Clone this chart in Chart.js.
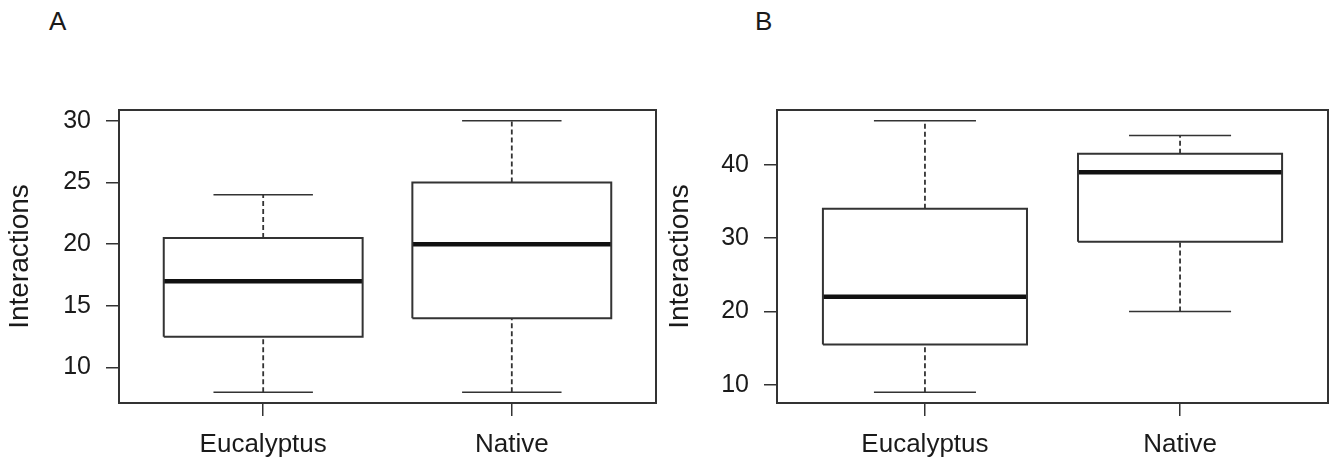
<!DOCTYPE html>
<html>
<head>
<meta charset="utf-8">
<script src="https://cdn.jsdelivr.net/npm/chart.js@4"></script>
<style>
  body { margin: 0; background: #fff; }
  .panel { position: absolute; top: 0; height: 459px; }
  .tag { position: absolute; top: 6px; font: 26px "Liberation Sans", Arial, sans-serif; color: #1a1a1a; }
</style>
</head>
<body>
<div class="tag" style="left:49px">A</div>
<div class="tag" style="left:755px">B</div>
<div class="panel" style="left:0;width:664px"><canvas id="chartA"></canvas></div>
<div class="panel" style="left:660px;width:669px"><canvas id="chartB"></canvas></div>
<script>
const categories = ['Eucalyptus', 'Native'];

// panel A
const yTicksA = [10, 15, 20, 25, 30];
const minA = [8, 8];
const q1A = [12.5, 14];
const medianA = [17, 20];
const q3A = [20.5, 25];
const maxA = [24, 30];

// panel B
const yTicksB = [10, 20, 30, 40];
const minB = [9, 20];
const q1B = [15.5, 29.5];
const medianB = [22, 39];
const q3B = [34, 41.5];
const maxB = [46, 44];

const FONT = '"Liberation Sans", Arial, sans-serif';
const INK = '#333';
const TEXT = '#1a1a1a';

function line(points, opts) {
    return Object.assign({
        data: points,
        showLine: true,
        pointRadius: 0,
        borderColor: INK,
        borderWidth: 1.5,
        fill: false,
        tension: 0
    }, opts);
}

function boxDatasets(mins, q1s, meds, q3s, maxs) {
    const sets = [];
    categories.forEach(function (c, i) {
        const x = i + 1;
        const hw = 0.4, cw = 0.2;
        sets.push(line([{x: x, y: q3s[i]}, {x: x, y: maxs[i]}], {borderDash: [5, 3], borderWidth: 1.8}));
        sets.push(line([{x: x, y: mins[i]}, {x: x, y: q1s[i]}], {borderDash: [5, 3], borderWidth: 1.8}));
        sets.push(line([{x: x - cw, y: maxs[i]}, {x: x + cw, y: maxs[i]}]));
        sets.push(line([{x: x - cw, y: mins[i]}, {x: x + cw, y: mins[i]}]));
        sets.push(line([
            {x: x - hw, y: q1s[i]}, {x: x + hw, y: q1s[i]},
            {x: x + hw, y: q3s[i]}, {x: x - hw, y: q3s[i]},
            {x: x - hw, y: q1s[i]}
        ], {borderWidth: 2, borderJoinStyle: 'miter'}));
        sets.push(line([{x: x - hw, y: meds[i]}, {x: x + hw, y: meds[i]}], {borderWidth: 4.5, borderColor: '#111'}));
    });
    return sets;
}

// R-style frame around the plot region
const framePlugin = {
    id: 'frame',
    afterDraw(chart) {
        const a = chart.chartArea, g = chart.ctx;
        g.save();
        g.strokeStyle = INK;
        g.lineWidth = 2;
        g.strokeRect(a.left, a.top, a.right - a.left, a.bottom - a.top);
        g.restore();
    }
};

function makeChart(id, datasets, yTicks, yMin, yMax, axisWidth, padRight) {
    const ctx = document.getElementById(id).getContext('2d');
    return new Chart(ctx, {
        type: 'scatter',
        data: { datasets: datasets },
        plugins: [framePlugin],
        options: {
            responsive: true,
            maintainAspectRatio: false,
            animation: false,
            layout: { padding: { top: 110, right: padRight, left: 0, bottom: 0 } },
            plugins: { legend: { display: false }, tooltip: { enabled: false } },
            scales: {
                x: {
                    type: 'linear',
                    min: 0.42,
                    max: 2.58,
                    afterBuildTicks: function (s) { s.ticks = categories.map(function (c, i) { return {value: i + 1}; }); },
                    afterFit: function (s) { s.height = 56; },
                    ticks: {
                        callback: function (v) { return categories[v - 1]; },
                        font: { family: FONT, size: 26 },
                        color: TEXT,
                        padding: 13,
                        maxRotation: 0,
                        autoSkip: false
                    },
                    grid: { drawOnChartArea: false, tickLength: 13, color: INK, lineWidth: 1.5 },
                    border: { display: false }
                },
                y: {
                    min: yMin,
                    max: yMax,
                    afterBuildTicks: function (s) { s.ticks = yTicks.map(function (v) { return {value: v}; }); },
                    afterFit: function (s) { s.width = axisWidth; },
                    ticks: {
                        font: { family: FONT, size: 25 },
                        color: TEXT,
                        padding: 15
                    },
                    grid: { drawOnChartArea: false, tickLength: 13, color: INK, lineWidth: 1.5 },
                    border: { display: false },
                    title: {
                        display: true,
                        text: 'Interactions',
                        font: { family: FONT, size: 28 },
                        color: TEXT,
                        padding: { top: 3, bottom: 0 }
                    }
                }
            }
        }
    });
}

makeChart('chartA', boxDatasets(minA, q1A, medianA, q3A, maxA), yTicksA, 7.12, 30.88, 119, 8);
makeChart('chartB', boxDatasets(minB, q1B, medianB, q3B, maxB), yTicksB, 7.52, 47.48, 117, 1);
</script>
</body>
</html>
